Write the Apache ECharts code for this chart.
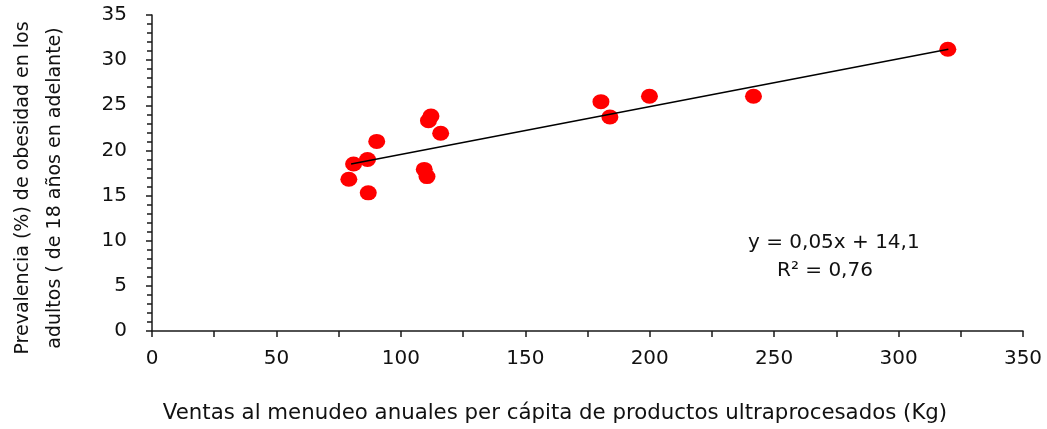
<!DOCTYPE html>
<html>
<head>
<meta charset="utf-8">
<script src="https://cdn.jsdelivr.net/npm/echarts@6/dist/echarts.min.js"></script>
<style>
html,body{margin:0;padding:0;background:#fff;}
#c{width:1047px;height:429px;}
</style>
</head>
<body>
<div id="c"></div>
<script>
// Data
var ventasKg = [79.1, 81.0, 86.6, 86.9, 90.3, 109.4, 110.5, 111.1, 112.1, 116.0, 180.4, 184.0, 199.9, 241.7, 319.8];
var obesidadPct = [16.8, 18.5, 19.0, 15.3, 21.0, 17.9, 17.1, 23.3, 23.8, 21.9, 25.4, 23.7, 26.0, 26.0, 31.2];
var trendX = [80, 320];
var trendY = [18.5, 31.2];
var xTicks = [0, 50, 100, 150, 200, 250, 300, 350];
var yTicks = [0, 5, 10, 15, 20, 25, 30, 35];
var equationText = 'y = 0,05x + 14,1';
var r2Text = 'R² = 0,76';
var xTitle = 'Ventas al menudeo anuales per cápita de productos ultraprocesados (Kg)';
var yTitle = 'Prevalencia (%) de obesidad en los\nadultos ( de 18 años en adelante)';

var scatterData = ventasKg.map(function (v, i) { return [v, obesidadPct[i]]; });
var trendData = trendX.map(function (v, i) { return [v, trendY[i]]; });

var FONT = '"DejaVu Sans", Verdana, sans-serif';
var TXT = '#111';

var chart = echarts.init(document.getElementById('c'), null, {renderer: 'canvas'});
chart.setOption({
  animation: false,
  backgroundColor: '#ffffff',
  grid: {left: 152, right: 24, top: 15, bottom: 98, containLabel: false, outerBoundsMode: 'none'},
  xAxis: {
    type: 'value',
    min: xTicks[0], max: xTicks[xTicks.length - 1], interval: xTicks[1] - xTicks[0],
    axisLine: {show: true, lineStyle: {color: '#1a1a1a', width: 1.5}},
    axisTick: {show: true, inside: false, length: 6, lineStyle: {color: '#1a1a1a', width: 1.5}},
    minorTick: {show: true, splitNumber: 2, length: 6, lineStyle: {color: '#1a1a1a', width: 1.5}},
    axisLabel: {fontFamily: FONT, fontSize: 20, color: TXT, margin: 18},
    splitLine: {show: false}
  },
  yAxis: {
    type: 'value',
    min: yTicks[0], max: yTicks[yTicks.length - 1], interval: yTicks[1] - yTicks[0],
    axisLine: {show: true, lineStyle: {color: '#1a1a1a', width: 1.5}},
    axisTick: {show: true, inside: false, length: 6, lineStyle: {color: '#1a1a1a', width: 1.5}},
    minorTick: {show: true, splitNumber: 5, length: 5, lineStyle: {color: '#1a1a1a', width: 1.5}},
    axisLabel: {fontFamily: FONT, fontSize: 20, color: TXT, margin: 25},
    splitLine: {show: false}
  },
  series: [
    {
      type: 'line',
      data: trendData,
      symbol: 'none',
      lineStyle: {color: '#000', width: 1.5},
      z: 3,
      silent: true
    },
    {
      type: 'scatter',
      data: scatterData,
      symbol: 'circle',
      symbolSize: [17, 15],
      itemStyle: {color: '#ff0000', opacity: 1},
      z: 2
    }
  ],
  graphic: [
    {type: 'text', left: 748, top: 233, style: {text: equationText, font: '20px ' + FONT, fill: TXT}},
    {type: 'text', left: 777, top: 261, style: {text: r2Text, font: '20px ' + FONT, fill: TXT}},
    {type: 'text', x: 555, y: 413, style: {text: xTitle, font: '21.3px ' + FONT, fill: TXT, align: 'center', verticalAlign: 'middle'}},
    {type: 'text', x: 39, y: 188, rotation: Math.PI / 2, style: {text: yTitle, font: '19px ' + FONT, fill: TXT, align: 'center', verticalAlign: 'middle', lineHeight: 32}}
  ]
});
</script>
</body>
</html>
